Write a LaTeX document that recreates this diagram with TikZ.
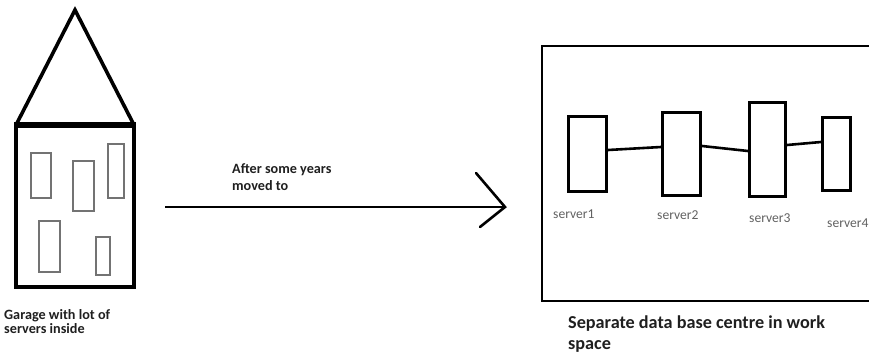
\documentclass[tikz,border=0pt]{standalone}
\usepackage{fontspec}
\setmainfont{Carlito}
\begin{document}
\begin{tikzpicture}[x=1pt,y=-1pt,
  wall/.style={line width=4pt, line join=miter},
  window/.style={draw=black!55, line width=1.3pt},
  rack/.style={draw, line width=2.6pt, inner sep=0pt, fill=white},
  link/.style={line width=2.6pt},
  caption/.style={inner sep=0pt, anchor=base west, align=left, text=black!88, font=\bfseries},
  srvlabel/.style={inner sep=0pt, anchor=base west, text=black!62, font=\fontsize{13.6}{16}\selectfont}]
\useasboundingbox (0,0) rectangle (869,354);
\clip (0,0) rectangle (869,354);

% the garage: roof, walls and the small server boxes inside
\draw[line width=3.6pt, line join=miter] (16,125) -- (75,10) -- (134,125);
\draw[wall] (16,125) rectangle (134,287);
\draw[line width=6pt] (14,125) -- (136,125);
\draw[window] (31,153) rectangle (51,198);
\draw[window] (73,161) rectangle (94,211);
\draw[window] (108,144) rectangle (124,198);
\draw[window] (39,221) rectangle (60,272);
\draw[window] (96,237) rectangle (110,275);
% two-line captions are placed by the baseline of their last line
\node[caption, font=\bfseries\fontsize{14.2}{14}\selectfont] (garage) at (4,333)
  {Garage with lot of\\servers inside};

% the move, drawn as a long arrow with an open head
\coordinate (from) at (165,207);
\coordinate (to) at (505,207);
\draw[line width=2.6pt] (from) -- (to);
\draw[line width=2.6pt, line cap=round, line join=miter] (476,173) -- (to) -- (480,227);
\node[caption, font=\bfseries\fontsize{14.2}{17}\selectfont] (moved) at (232,190)
  {After some years\\moved to};

% the data centre room
\draw[line width=2.6pt] (875,46) -- (542,46) -- (542,301) -- (875,301);

% servers and their links
\node[rack, minimum width=38.5pt, minimum height=75.5pt] (s1) at (587.5,154) {};
\node[rack, minimum width=38.5pt, minimum height=83.5pt] (s2) at (681.5,154) {};
\node[rack, minimum width=36.5pt, minimum height=94.5pt] (s3) at (767.5,149.5) {};
\node[rack, minimum width=28.5pt, minimum height=73.5pt] (s4) at (836.5,154) {};
\draw[link] ([yshift=4pt]s1.east) -- ([yshift=7pt]s2.west);
\draw[link] ([yshift=8pt]s2.east) -- ([yshift=-1.5pt]s3.west);
\draw[link] ([yshift=4.5pt]s3.east) -- ([yshift=12pt]s4.west);

\node[srvlabel] (l1) at (553,218) {server1};
\node[srvlabel] (l2) at (657,219) {server2};
\node[srvlabel] (l3) at (749,222) {server3};
\node[srvlabel] (l4) at (827,227) {server4};

\node[caption, font=\bfseries\fontsize{18.2}{21}\selectfont] (room) at (568,349)
  {Separate data base centre in work\\space};
\end{tikzpicture}
\end{document}
